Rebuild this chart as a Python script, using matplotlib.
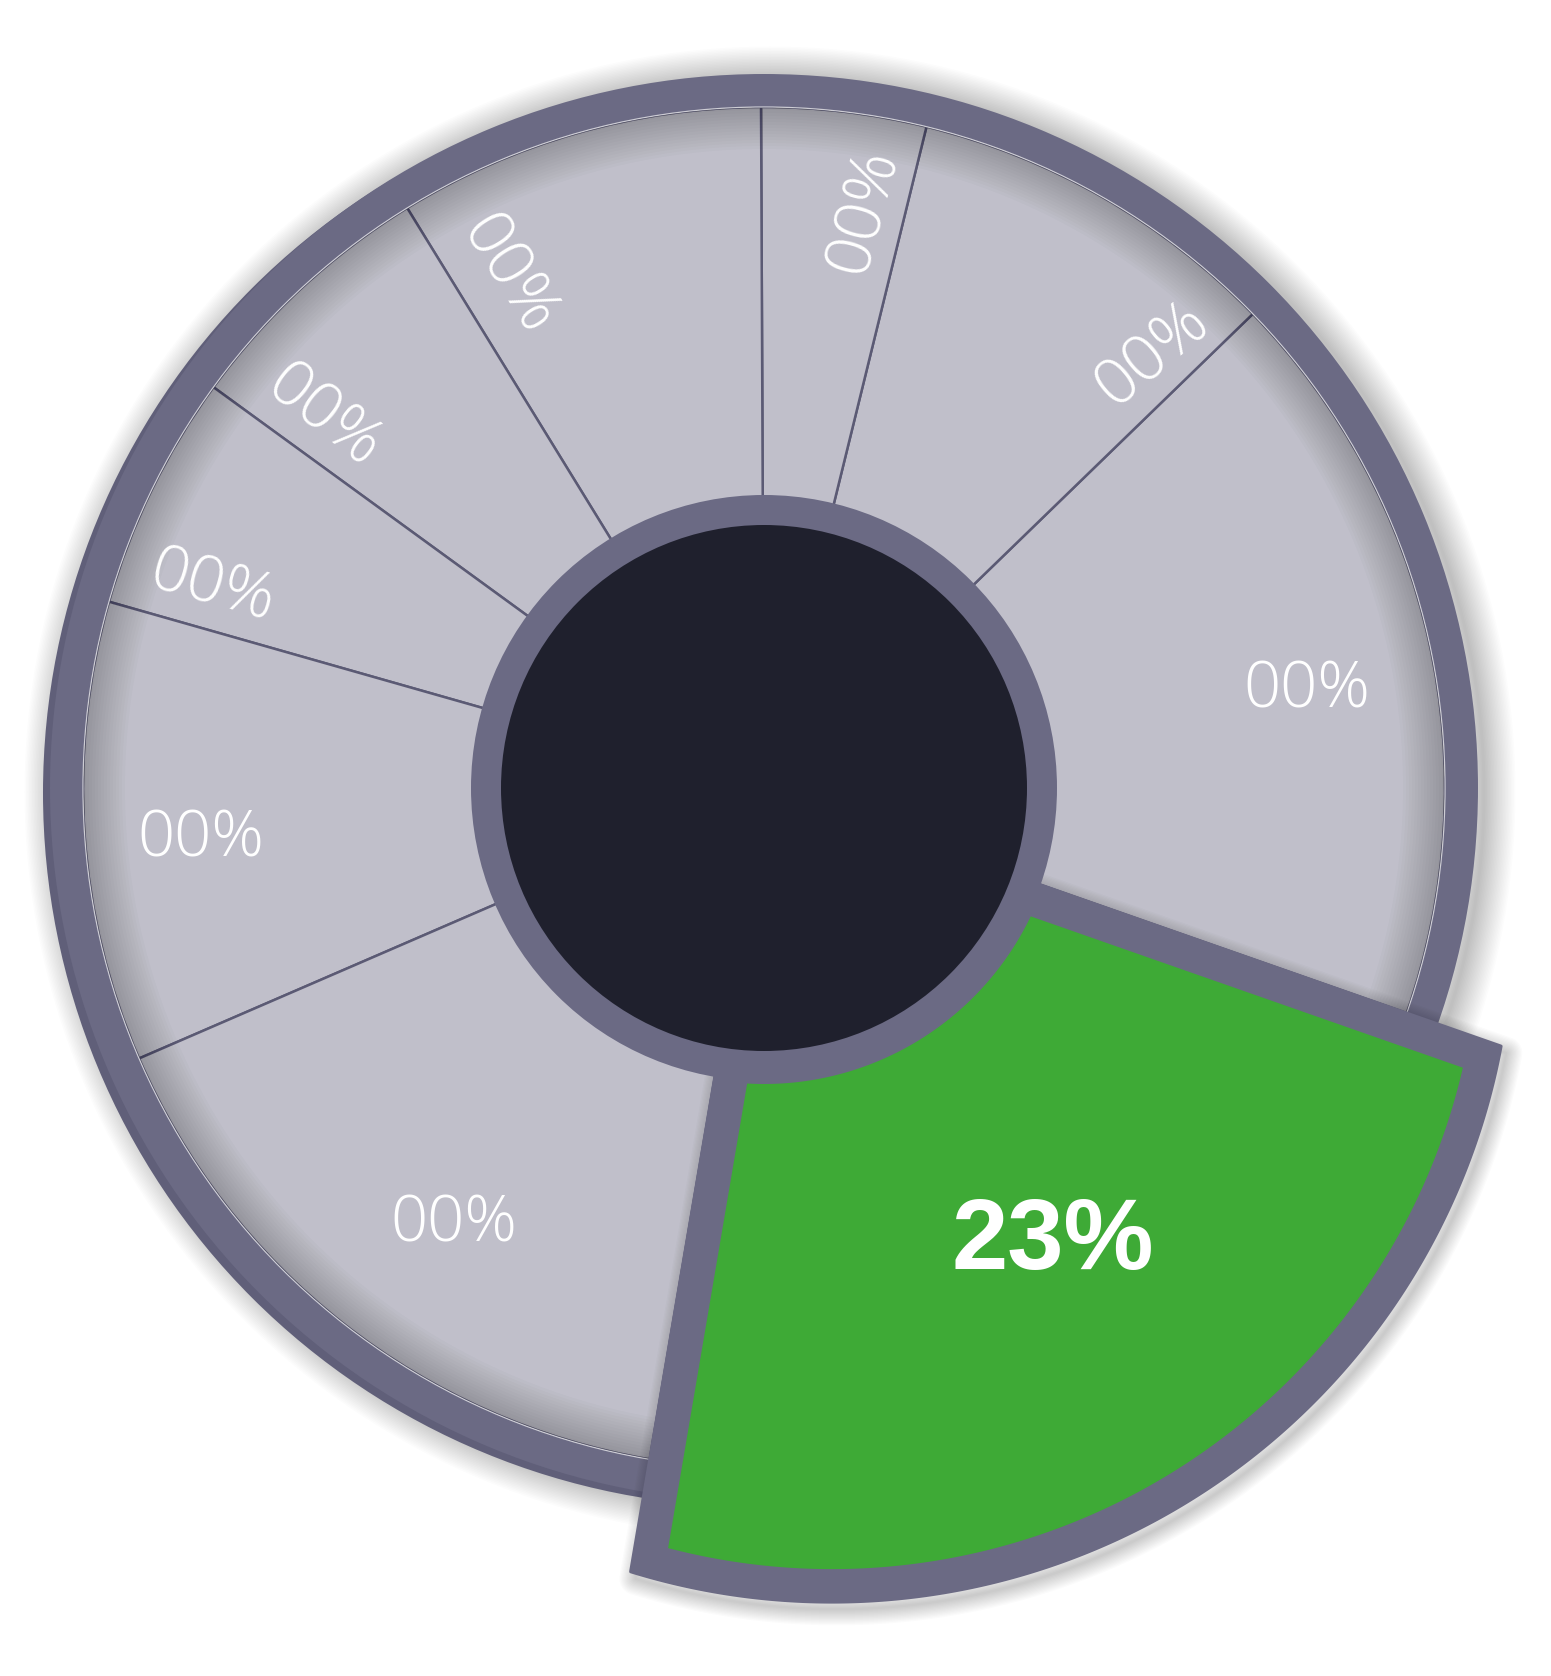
import numpy as np
import matplotlib
matplotlib.use('Agg')
import matplotlib.pyplot as plt
from matplotlib.patches import Circle, Wedge, Polygon

# ---------------- data ----------------
segment_names = ['S1', 'S2', 'S3', 'S4', 'S5', 'S6', 'S7', 'S8', 'Highlight']
shares = [17.6, 8.9, 3.9, 8.7, 6.2, 5.6, 10.9, 15.8, 22.3]
labels = ['00%', '00%', '00%', '00%', '00%', '00%', '00%', '00%', '23%']
start_angle = -19.3

# ---------------- layout / style ----------------
W, H = 1551, 1676
DPI = 100
PT = 72 / DPI  # points per pixel

cx, cy = 764, H - 788
R_RIM_OUT, R_RIM_IN = 714, 681
R_RING, R_DARK = 293, 263
R_CORNER_1 = 795    # lower-left corner of highlighted segment (distance from centre)
R_CORNER_2 = 781    # right corner
R_BULGE = 830       # middle of its outer arc
BORDER = 33

RIM = '#6b6a84'
RIM_DARK = '#605f79'
GRAY = '#c0bfca'
DARK = '#1f202d'
GREEN = '#3eaa36'
LINE = '#5b5a74'

# label positions (screen px) and rotations
label_pos = [(1307, 691), (1153, 355), (864, 211), (507, 276),
             (323, 418), (212, 588), (201, 840), (454, 1225), (1053, 1243)]
label_rot = [0, 40, 75, -58, -38, -16, 0, 0, 0]

fig = plt.figure(figsize=(W / DPI, H / DPI), dpi=DPI)
fig.patch.set_facecolor('white')
ax = fig.add_axes([0, 0, 1, 1])

# soft drop shadow of disk
for k in range(1, 22):
    ax.add_patch(Circle((cx + 6, cy - 4), R_RIM_OUT, facecolor='none',
                        edgecolor='black', alpha=0.010, lw=3 * k * PT, zorder=0))
# 3D extrusion of the rim (lower-left)
ax.add_patch(Circle((cx - 7, cy - 5), R_RIM_OUT, facecolor=RIM_DARK, lw=0, zorder=1))

colors = [GRAY] * (len(shares) - 1) + [GREEN]
wedges, _ = ax.pie(shares, startangle=start_angle, counterclock=True,
                   radius=R_RIM_IN, center=(cx, cy), colors=colors,
                   wedgeprops=dict(edgecolor=LINE, linewidth=2.5 * PT))
for w in wedges:
    w.set_zorder(2)

# inner shadow of the grey disk
for i in range(14):
    ax.add_patch(Wedge((cx, cy), R_RIM_IN, 0, 360, width=3 * (i + 1),
                       facecolor='black', alpha=0.016, lw=0, zorder=2.5))

# rim
ax.add_patch(Wedge((cx, cy), R_RIM_OUT, 0, 360, width=R_RIM_OUT - R_RIM_IN,
                   facecolor=RIM, lw=0, zorder=3))
ax.add_patch(Circle((cx, cy), R_RIM_IN, fill=False, edgecolor='white',
                    alpha=0.7, lw=1.2 * PT, zorder=3.1))

# ---------------- highlighted (green) segment ----------------
wg = wedges[-1]
a1, a2 = wg.theta1, wg.theta2
wg.set_visible(False)
c = np.array([cx, cy], dtype=float)
t1, t2 = np.radians(a1), np.radians(a2)
tm = 0.5 * (t1 + t2)
u1 = np.array([np.cos(t1), np.sin(t1)])
u2 = np.array([np.cos(t2), np.sin(t2)])
um = np.array([np.cos(tm), np.sin(tm)])

# outer arc: circle through the two corners and the bulge point
P1, P2, P3 = c + R_CORNER_1 * u1, c + R_CORNER_2 * u2, c + R_BULGE * um
A = 2 * np.array([P2 - P1, P3 - P1])
bvec = np.array([P2 @ P2 - P1 @ P1, P3 @ P3 - P1 @ P1])
c2 = np.linalg.solve(A, bvec)
R_ARC = np.linalg.norm(P1 - c2)


def ray_hit(u, off, rad):
    """distance t along u from c (+off) to circle (c2, rad)"""
    q = c + off - c2
    b = u @ q
    return -b + np.sqrt(b * b - q @ q + rad * rad)


def ang(p, o):
    return np.arctan2(p[1] - o[1], p[0] - o[0])


def shape(d):
    n1 = np.array([-np.sin(t1), np.cos(t1)])
    n2 = np.array([np.sin(t2), -np.cos(t2)])
    r_i = R_DARK + d
    p_in1 = c + np.sqrt(r_i**2 - d**2) * u1 + d * n1
    p_out1 = c + ray_hit(u1, d * n1, R_ARC - d) * u1 + d * n1
    p_out2 = c + ray_hit(u2, d * n2, R_ARC - d) * u2 + d * n2
    p_in2 = c + np.sqrt(r_i**2 - d**2) * u2 + d * n2
    b1, b2 = ang(p_out1, c2), ang(p_out2, c2)
    while b2 < b1:
        b2 += 2 * np.pi
    arc_o = np.linspace(b1, b2, 240)
    e2, e1 = ang(p_in2, c), ang(p_in1, c)
    while e1 > e2:
        e1 -= 2 * np.pi
    arc_i = np.linspace(e2, e1, 120)
    return np.vstack([[p_in1], [p_out1],
                      c2 + (R_ARC - d) * np.column_stack([np.cos(arc_o), np.sin(arc_o)]),
                      [p_out2], [p_in2],
                      c + r_i * np.column_stack([np.cos(arc_i), np.sin(arc_i)])])


outer = shape(0.0)
for k in range(1, 14):
    ax.add_patch(Polygon(outer + np.array([5, -7]), closed=True, facecolor='none',
                         edgecolor='black', alpha=0.014, lw=2.5 * k * PT,
                         joinstyle='round', zorder=4))
ax.add_patch(Polygon(outer, closed=True, facecolor=RIM, edgecolor=RIM,
                     lw=3 * PT, joinstyle='round', zorder=5))
ax.add_patch(Polygon(shape(BORDER), closed=True, facecolor=GREEN, lw=0, zorder=5.5))

# centre ring and dark hub
ax.add_patch(Circle((cx, cy), R_RING, facecolor=RIM, lw=0, zorder=6))
ax.add_patch(Circle((cx, cy), R_DARK, facecolor=DARK, lw=0, zorder=7))

# labels
for i, (txt, (px, py), rot) in enumerate(zip(labels, label_pos, label_rot)):
    if i == len(labels) - 1:
        ax.text(px, H - py, txt, ha='center', va='center', rotation=rot,
                color='white', fontsize=73, fontweight='bold',
                family=['Liberation Sans', 'DejaVu Sans'], zorder=10)
    else:
        ax.text(px, H - py, txt, ha='center', va='center', rotation=rot,
                rotation_mode='anchor', color='white', fontsize=47,
                fontweight='light', family=['Open Sans', 'DejaVu Sans'], zorder=10)

ax.set_xlim(0, W)
ax.set_ylim(0, H)
ax.set_aspect('equal')
ax.axis('off')
fig.savefig('out.png', dpi=DPI, facecolor='white')
